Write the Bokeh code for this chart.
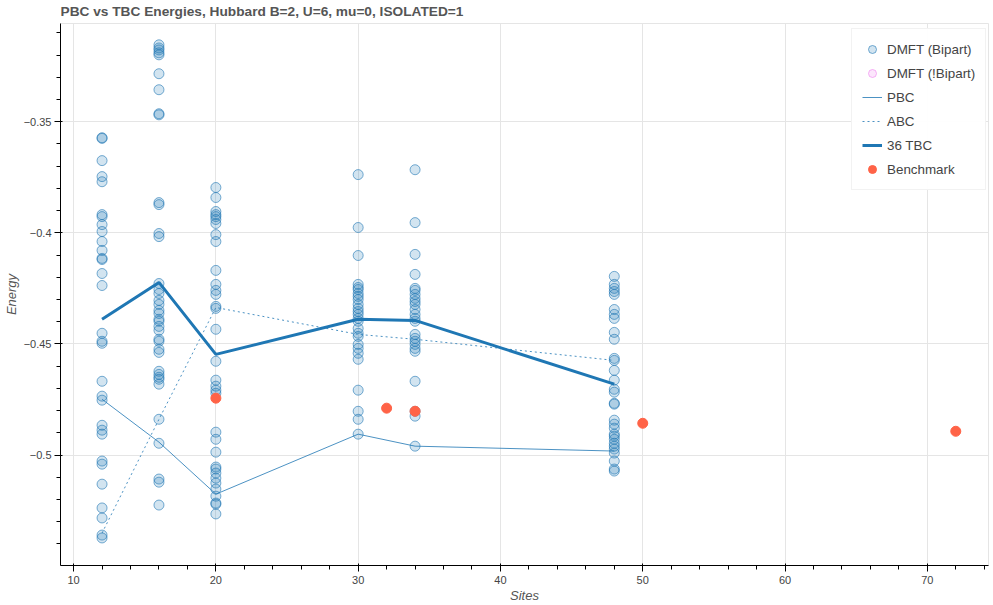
from bokeh.plotting import figure
from bokeh.models import Range1d, Legend, LegendItem
from bokeh.embed import file_html
from bokeh.resources import INLINE

# ---- data ----
sites_list = [12, 16, 20, 30, 34, 48]

dmft_12 = [-0.3572, -0.3575, -0.3675, -0.3747, -0.3770, -0.3918, -0.3927, -0.3963, -0.3994,
           -0.4039, -0.4079, -0.4115, -0.4120, -0.4183, -0.4237, -0.4452, -0.4488, -0.4497,
           -0.4668, -0.4735, -0.4753, -0.4866, -0.4888, -0.4906, -0.5027, -0.5041, -0.5131,
           -0.5238, -0.5283, -0.5360, -0.5373]
dmft_16 = [-0.3154, -0.3168, -0.3177, -0.3190, -0.3199, -0.3284, -0.3356, -0.3464, -0.3469,
           -0.3864, -0.3873, -0.4003, -0.4017, -0.4228, -0.4255, -0.4273, -0.4304, -0.4322,
           -0.4349, -0.4363, -0.4389, -0.4398, -0.4421, -0.4439, -0.4479, -0.4488, -0.4524,
           -0.4538, -0.4623, -0.4637, -0.4650, -0.4659, -0.4681, -0.4839, -0.4947, -0.5108,
           -0.5122, -0.5225]
dmft_20 = [-0.3796, -0.3841, -0.3904, -0.3918, -0.3927, -0.3940, -0.3958, -0.4008, -0.4039,
           -0.4169, -0.4232, -0.4259, -0.4277, -0.4331, -0.4340, -0.4434, -0.4578, -0.4663,
           -0.4690, -0.4708, -0.4722, -0.4897, -0.4929, -0.4987, -0.5054, -0.5063, -0.5081,
           -0.5104, -0.5126, -0.5153, -0.5185, -0.5216, -0.5221, -0.5265]
dmft_30 = [-0.3738, -0.3976, -0.4102, -0.4232, -0.4246, -0.4255, -0.4273, -0.4286, -0.4300,
           -0.4322, -0.4340, -0.4354, -0.4367, -0.4385, -0.4398, -0.4430, -0.4452, -0.4466,
           -0.4502, -0.4520, -0.4542, -0.4569, -0.4708, -0.4803, -0.4839, -0.4906]
dmft_34 = [-0.3716, -0.3954, -0.4097, -0.4187, -0.4250, -0.4259, -0.4277, -0.4295, -0.4309,
           -0.4322, -0.4345, -0.4367, -0.4385, -0.4398, -0.4457, -0.4475, -0.4488, -0.4502,
           -0.4520, -0.4533, -0.4668, -0.4803, -0.4825, -0.4960]
dmft_48 = [-0.4196, -0.4232, -0.4250, -0.4264, -0.4277, -0.4345, -0.4367, -0.4385, -0.4448,
           -0.4479, -0.4565, -0.4574, -0.4619, -0.4663, -0.4704, -0.4717, -0.4767, -0.4771,
           -0.4843, -0.4861, -0.4879, -0.4906, -0.4915, -0.4929, -0.4947, -0.4960, -0.4973,
           -0.4991, -0.5027, -0.5063, -0.5072]

# no non-bipartite DMFT results in this chart (legend entry only)
dmft_nonbip_x = [float("nan")]
dmft_nonbip_y = [float("nan")]

pbc_energy = [-0.4749, -0.4942, -0.5176, -0.4906, -0.4960, -0.4982]
abc_energy = [-0.5351, -0.4839, -0.4336, -0.4457, -0.4479, -0.4574]
tbc36_energy = [-0.4389, -0.4223, -0.4547, -0.4389, -0.4394, -0.4681]

bench_sites = [20, 32, 34, 50, 72]
bench_energy = [-0.4744, -0.4789, -0.4803, -0.4857, -0.4893]

title_text = "PBC vs TBC Energies, Hubbard B=2, U=6, mu=0, ISOLATED=1"

# ---- build ----
dmft_columns = [dmft_12, dmft_16, dmft_20, dmft_30, dmft_34, dmft_48]
dmft_x, dmft_y = [], []
for s, col in zip(sites_list, dmft_columns):
    dmft_x.extend([s] * len(col))
    dmft_y.extend(col)

p = figure(width=993, height=605, title=title_text, output_backend="svg",
           toolbar_location=None,
           x_range=Range1d(9.08, 74.3), y_range=Range1d(-0.5497, -0.3058),
           x_axis_label="Sites", y_axis_label="Energy",
           min_border_top=0, min_border_bottom=0, min_border_left=0)
p.title.text_color = "#555555"
p.title.text_font_size = "13.7px"
p.title.standoff = 6
p.title.vertical_align = "top"
p.xaxis.axis_label_text_color = "#555555"
p.yaxis.axis_label_text_color = "#555555"
p.yaxis.axis_label_standoff = 2
p.yaxis.major_label_standoff = 3
p.xaxis.axis_label_standoff = 1
p.xaxis.major_label_standoff = 4

c = "#1f77b4"
r_bip = p.scatter(dmft_x, dmft_y, size=10, fill_color=c, fill_alpha=0.2,
                  line_color=c, line_alpha=0.6)
r_nbip = p.scatter(dmft_nonbip_x, dmft_nonbip_y, size=10, fill_color="violet",
                   fill_alpha=0.2, line_color="violet", line_alpha=0.6)
r_pbc = p.line(sites_list, pbc_energy, line_color=c, line_width=1, line_alpha=0.8)
r_abc = p.line(sites_list, abc_energy, line_color=c, line_width=1, line_alpha=0.8,
               line_dash="2 3")
r_tbc = p.line(sites_list, tbc36_energy, line_color=c, line_width=3)
r_bench = p.scatter(bench_sites, bench_energy, size=10, fill_color="tomato",
                    line_color="tomato")

legend = Legend(items=[
    LegendItem(label="DMFT (Bipart)", renderers=[r_bip]),
    LegendItem(label="DMFT (!Bipart)", renderers=[r_nbip]),
    LegendItem(label="PBC", renderers=[r_pbc]),
    LegendItem(label="ABC", renderers=[r_abc]),
    LegendItem(label="36 TBC", renderers=[r_tbc]),
    LegendItem(label="Benchmark", renderers=[r_bench]),
], location=(791, 375), spacing=4, label_text_font_size="13.4px")
p.add_layout(legend)

open("out.html", "w").write(file_html(p, INLINE))
